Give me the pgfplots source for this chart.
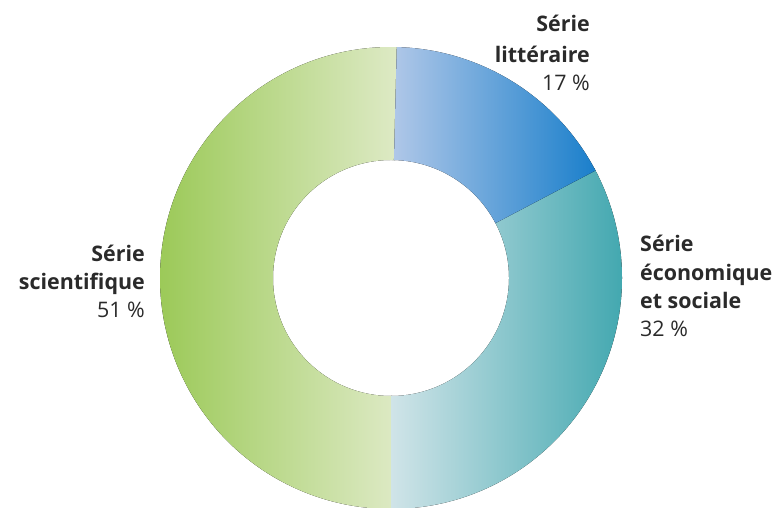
\documentclass[border=0pt]{standalone}
\usepackage{pgfplots}
\usepackage{pgfplotstable}
\pgfplotsset{compat=1.18}
\usepackage{fontspec}
\setmainfont{Open Sans}

\definecolor{txt}{HTML}{2A2A2A}
\definecolor{litA}{HTML}{AFC7E8}
\definecolor{litB}{HTML}{1A7FCB}
\definecolor{esA}{HTML}{D0E4E8}
\definecolor{esB}{HTML}{43A8B0}
\definecolor{sciA}{HTML}{9BC957}
\definecolor{sciB}{HTML}{DEEAC6}

% part = share drawn on the ring, pct = printed label
\pgfplotstableread{
serie part pct
ES    32.7 32
L     16.9 17
S     50.4 51
}\parts

\begin{document}
\begin{tikzpicture}
\pgfplotstablegetelem{0}{part}\of\parts \let\vES\pgfplotsretval
\pgfplotstablegetelem{1}{part}\of\parts \let\vL\pgfplotsretval
\pgfplotstablegetelem{2}{part}\of\parts \let\vS\pgfplotsretval
\pgfplotstablegetelem{0}{pct}\of\parts \let\pES\pgfplotsretval
\pgfplotstablegetelem{1}{pct}\of\parts \let\pL\pgfplotsretval
\pgfplotstablegetelem{2}{pct}\of\parts \let\pS\pgfplotsretval
% angles, counter-clockwise from the bottom
\pgfmathsetmacro\aA{-90}
\pgfmathsetmacro\aB{\aA+3.6*\vES}
\pgfmathsetmacro\aC{\aB+3.6*\vL}
\pgfmathsetmacro\aD{\aC+3.6*\vS}
\def\R{231}
\def\r{118}
% a sector from angle #1 to #2
\newcommand\sector[3]{%
  \fill[#3]
    (axis cs:{\R*cos(#1)},{\R*sin(#1)}) arc[start angle=#1, end angle=#2, radius=\R bp]
    -- (axis cs:{\r*cos(#2)},{\r*sin(#2)}) arc[start angle=#2, end angle=#1, radius=\r bp] -- cycle;}
\begin{axis}[
    x=1bp, y=1bp,
    xmin=-391, xmax=390,
    ymin=-230, ymax=278,
    hide axis,
]
\path (rel axis cs:0,0) rectangle (rel axis cs:1,1);
% drawn with a little overlap, so that no seam shows
\sector{\aC-0.6}{\aD+0.6}{left color=sciA, right color=sciB}
\sector{\aA}{\aB+0.6}{left color=esA, right color=esB}
\sector{\aB}{\aC}{left color=litA, right color=litB}

\tikzset{
  lab/.style={inner sep=0pt, text=txt, font=\fontsize{21.5}{24}\selectfont},
  labb/.style={lab, font=\fontsize{21.5}{24}\selectfont\bfseries},
}
% litteraire
\node[labb, anchor=base east] at (axis cs:199,246) {Série};
\node[labb, anchor=base east] at (axis cs:199,215) {littéraire};
\node[lab,  anchor=base east] at (axis cs:199,187) {\pL\ \%};
% economique et sociale
\node[labb, anchor=base west] at (axis cs:249,26) {Série};
\node[labb, anchor=base west] at (axis cs:249,-3) {économique};
\node[labb, anchor=base west] at (axis cs:249,-31) {et sociale};
\node[lab,  anchor=base west] at (axis cs:249,-59) {\pES\ \%};
% scientifique
\node[labb, anchor=base east] at (axis cs:-246,16) {Série};
\node[labb, anchor=base east] at (axis cs:-246,-12) {scientifique};
\node[lab,  anchor=base east] at (axis cs:-246,-40) {\pS\ \%};
\end{axis}
\end{tikzpicture}
\end{document}
